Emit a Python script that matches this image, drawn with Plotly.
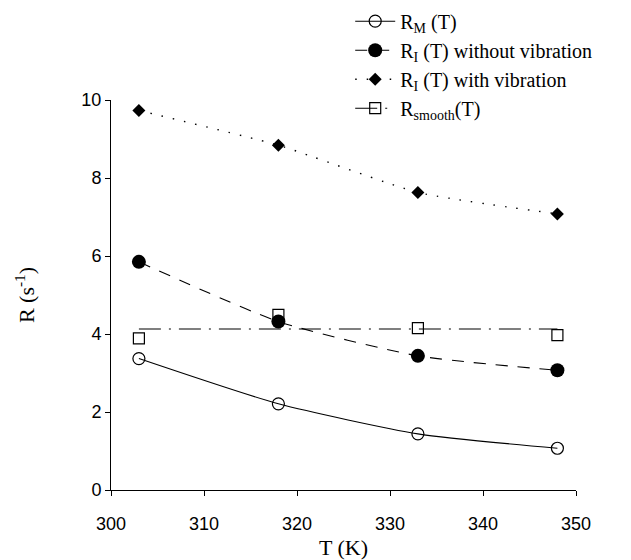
import plotly.graph_objects as go

T = [303, 318, 333, 348]
R_M = [3.37, 2.21, 1.44, 1.07]
R_I_without = [5.85, 4.32, 3.44, 3.07]
R_I_with = [9.73, 8.84, 7.63, 7.08]
R_smooth = [3.89, 4.49, 4.15, 3.97]
R_smooth_level = 4.13

x_ticks = [300, 310, 320, 330, 340, 350]
y_ticks = [0, 2, 4, 6, 8, 10]

serif = "Liberation Serif, Times New Roman, serif"
sans = "Liberation Sans, Arial, sans-serif"
LW = 1.1

fig = go.Figure()

fig.add_trace(go.Scatter(
    x=T, y=R_M, mode="lines+markers", name="R<sub>M</sub> (T)",
    line=dict(color="black", width=LW, shape="spline", smoothing=0.6),
    marker=dict(symbol="circle-open", size=12, color="black", line=dict(width=1.2)),
))
fig.add_trace(go.Scatter(
    x=T, y=R_I_without, mode="lines+markers", name="R<sub>I</sub> (T) without vibration",
    line=dict(color="black", width=LW, dash="12px,10px", shape="spline", smoothing=0.6),
    marker=dict(symbol="circle", size=14, color="black"),
))
fig.add_trace(go.Scatter(
    x=T, y=R_I_with, mode="lines+markers", name="R<sub>I</sub> (T) with vibration",
    line=dict(color="black", width=1.4, dash="1.5px,10px", shape="spline", smoothing=0.5),
    marker=dict(symbol="diamond", size=10, color="black"),
))
fig.add_trace(go.Scatter(
    x=[T[0], T[-1]], y=[R_smooth_level, R_smooth_level], mode="lines",
    line=dict(color="black", width=LW, dash="22px,8px,2px,8px"),
    showlegend=False, hoverinfo="skip",
))
fig.add_trace(go.Scatter(
    x=T, y=R_smooth, mode="markers", name="R<sub>smooth</sub>(T)",
    marker=dict(symbol="square-open", size=11, color="black", line=dict(width=1.2)),
    showlegend=False,
))
# legend entry for smooth
fig.add_trace(go.Scatter(
    x=[None], y=[None], mode="lines+markers", name="R<sub>smooth</sub>(T)",
    line=dict(color="black", width=LW, dash="22px,8px,2px,8px"),
    marker=dict(symbol="square-open", size=11, color="black", line=dict(width=1.2)),
))

axis_font = dict(family=sans, size=18, color="black")
fig.update_layout(
    width=631, height=560,
    margin=dict(l=111, r=55, t=100, b=70, autoexpand=False),
    paper_bgcolor="white", plot_bgcolor="white",
    showlegend=True,
    legend=dict(
        xref="container", yref="container",
        x=0.555, y=0.997, xanchor="left", yanchor="top",
        font=dict(family=serif, size=20, color="black"),
        bgcolor="rgba(0,0,0,0)", tracegroupgap=0, itemwidth=40,
    ),
    xaxis=dict(
        range=[300, 350], tickvals=x_ticks, ticktext=[str(v) for v in x_ticks],
        showgrid=False, zeroline=False, showline=True, linecolor="black", linewidth=1,
        ticks="outside", ticklen=5, tickcolor="black", tickfont=axis_font,
        ticklabelstandoff=12, automargin=False,
        title=dict(text="T (K)", font=dict(family=serif, size=22, color="black"), standoff=8),
    ),
    yaxis=dict(
        range=[0, 10], tickvals=y_ticks, ticktext=[str(v) for v in y_ticks],
        showgrid=False, zeroline=False, showline=True, linecolor="black", linewidth=1,
        ticks="outside", ticklen=5, tickcolor="black", tickfont=axis_font,
        automargin=False,
        title=dict(text="R (s<sup>-1</sup>)", font=dict(family=serif, size=22, color="black"), standoff=40),
    ),
)
fig.update_traces(cliponaxis=False)

fig.write_html("out.html")
